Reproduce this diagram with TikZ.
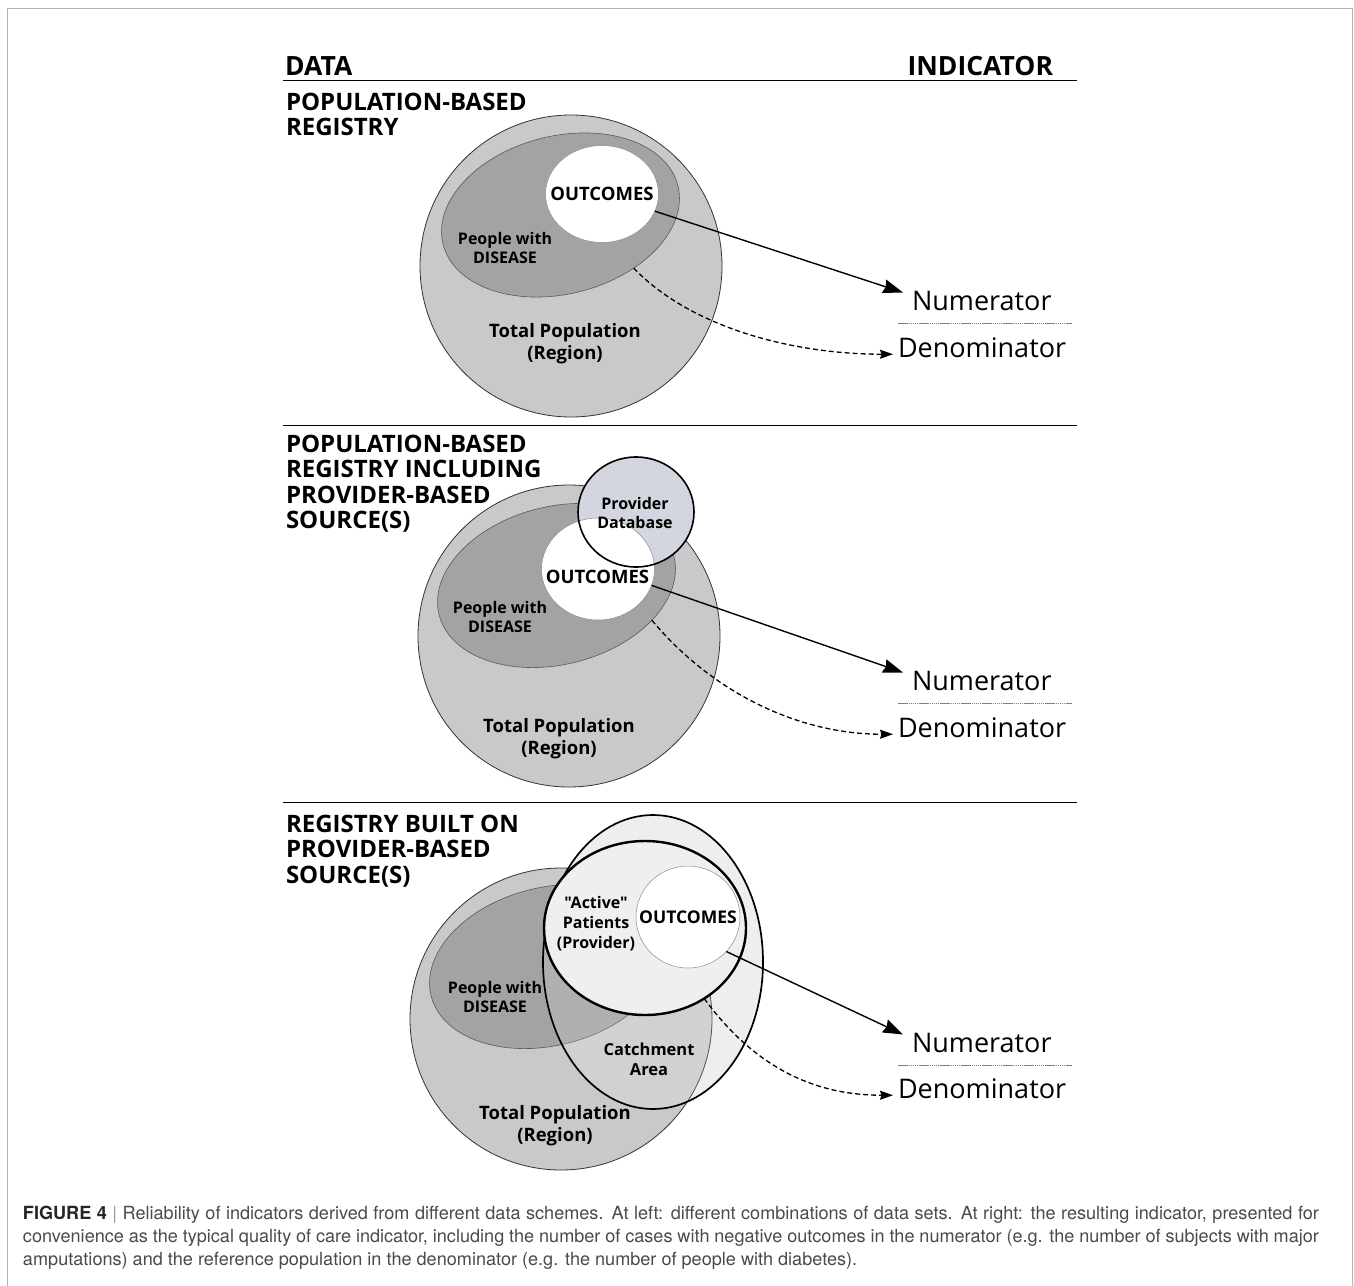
\documentclass[tikz,border=0pt]{standalone}
\usepackage{fontspec}
\setmainfont{Open Sans}[Ligatures=TeXOff]
\newfontfamily\capfont{TeX Gyre Heros}
\usepackage{tikz}
\usetikzlibrary{arrows.meta,positioning,calc,shapes.geometric}
\definecolor{popgray}{HTML}{C9C9C9}
\definecolor{disgray}{HTML}{A3A3A3}
\definecolor{provblue}{HTML}{D3D6DF}
\definecolor{catchgray}{HTML}{ECECEC}
\definecolor{actgray}{HTML}{EFEFEF}
\definecolor{framegray}{HTML}{B4B4B4}
\definecolor{capgray}{HTML}{4A4A4A}

\begin{document}
\begin{tikzpicture}[x=1pt, y=-1pt,
  every node/.style={inner sep=0pt, outer sep=0pt},
  hdr/.style={font=\fontsize{24}{25.5}\selectfont\bfseries, align=left},
  top/.style={font=\fontsize{26.5}{30}\selectfont\bfseries},
  lbl/.style={font=\fontsize{16}{19}\selectfont\bfseries, align=center},
  big/.style={font=\fontsize{18.5}{22}\selectfont\bfseries, align=center},
  ind/.style={font=\fontsize{27}{30}\selectfont},
  captxt/.style={font=\capfont\fontsize{18.1}{22}\selectfont, text=capgray, anchor=base west},
  pop/.style={circle, draw=black!80, line width=0.8pt, fill=popgray, minimum size=302},
  dis/.style={ellipse, draw=black!65, line width=0.6pt, fill=disgray, rotate=14, minimum width=242, minimum height=158},
  outc/.style={ellipse, draw=black!45, line width=0.5pt, fill=white},
  arr/.style={line width=1.4pt, -{Stealth[length=20pt,width=14pt,inset=2pt]}},
  darr/.style={line width=1.3pt, dash pattern=on 5pt off 3pt, -{Stealth[length=13pt,width=9pt,inset=1.5pt]}},
  sep/.style={line width=1.3pt}
]
\useasboundingbox (0,0) rectangle (1354,1285);
\draw[framegray, line width=1.2pt] (7.5,1300) -- (7.5,8.5) -- (1352.5,8.5) -- (1352.5,1300);

% header
\node[top, anchor=base west] (data) at (285,75) {DATA};
\node[top, anchor=base east] (indic) at (1053,75) {INDICATOR};
\draw[sep] (283,80.5) -- (1077,80.5);
\draw[sep] (283,425.5) -- (1077,425.5);
\draw[sep] (283,802.5) -- (1077,802.5);

% section 1
\node[hdr, anchor=north west] (t1) at (286,93) {POPULATION-BASED\\REGISTRY};
\node[pop] (pop1) at (571,266) {};
\node[dis] (dis1) at (560.5,215) {};
\node[outc, minimum width=113, minimum height=97] (out1) at (602,194) {};
\node[big] at (out1) {OUTCOMES};
\node[lbl] at (505,247.5) {People with\\DISEASE};
\node[big] at (565,344) {Total Population\\(Region)};

% section 2
\node[hdr, anchor=north west] (t2) at (286,435) {POPULATION-BASED\\REGISTRY INCLUDING\\PROVIDER-BASED\\SOURCE(S)};
\node[pop] (pop2) at (569,636) {};
\node[dis] (dis2) at (556.5,585.5) {};
\fill[provblue] (636,512) ellipse [x radius=58, y radius=55];
\node[outc, minimum width=113, minimum height=102] (out2) at (598,569) {};
\node[ellipse, draw=black, line width=1.6pt, minimum width=116, minimum height=110] (prov2) at (636,512) {};
\node[lbl] at (635,513) {Provider\\Database};
\node[big] at (597.5,577) {OUTCOMES};
\node[lbl] at (500,617) {People with\\DISEASE};
\node[big] at (559,738.5) {Total Population\\(Region)};

% section 3
\node[hdr, anchor=north west] (t3) at (286,815) {REGISTRY BUILT ON\\PROVIDER-BASED\\SOURCE(S)};
\fill[catchgray] (653,962) ellipse [x radius=110, y radius=147];
\node[pop] (pop3) at (561,1019) {};
\node[dis] (dis3) at (548.5,966.5) {};
\node[ellipse, draw=black, line width=1.7pt, fill=white, fill opacity=0.15, minimum width=220, minimum height=294] (catch3) at (653,962) {};
\node[ellipse, draw=black, line width=2.4pt, fill=actgray, minimum width=202, minimum height=174] (act3) at (645,928) {};
\node[outc, minimum width=104, minimum height=102] (out3) at (688,917) {};
\node[big, font=\fontsize{17.5}{20}\selectfont\bfseries] at (out3) {OUTCOMES};
\node[lbl, font=\fontsize{16}{20}\selectfont\bfseries] at (596,924) {"Active"\\Patients\\(Provider)};
\node[lbl] at (495,997) {People with\\DISEASE};
\node[lbl, font=\fontsize{16.5}{20}\selectfont\bfseries] at (649,1059) {Catchment\\Area};
\node[big] at (555,1126) {Total Population\\(Region)};

% indicator
\foreach \i/\yn/\yd/\ys in {1/310/357/323.5, 2/690/737/703.5, 3/1052/1098/1065.5} {
  \node[ind, anchor=base west] (num\i) at (912,\yn) {Numerator};
  \node[ind, anchor=base west] (den\i) at (898,\yd) {Denominator};
  \draw[black!50, line width=0.8pt, dash pattern=on 1.5pt off 0.6pt] (898,\ys) -- (1072,\ys);
}

\draw[arr] (out1.-18) -- ($(num1.west)+(-9,-8)$);
\draw[arr] (out2.-17) -- ($(num2.west)+(-9,-8)$);
\draw[arr] (out3.-42) -- ($(num3.west)+(-9,-8)$);
\draw[darr] (dis1.-50) .. controls +(60,62) and +(-95,0) .. ($(den1.west)+(-5,7)$);
\draw[darr] (dis2.-34) .. controls +(60,72) and +(-95,0) .. ($(den2.west)+(-5,7)$);
\draw[darr] (act3.-50) .. controls +(50,68) and +(-80,0) .. ($(den3.west)+(-5,7)$);

% caption
\node[captxt] (cap1) at (23,1219) {\makebox[1296pt][s]{{\color{black!85}\bfseries FIGURE 4} {\color{black!40}|} Reliability of indicators derived from different data schemes. At left: different combinations of data sets. At right: the resulting indicator, presented for}};
\node[captxt] (cap2) at (23,1242) {\makebox[1296pt][s]{convenience as the typical quality of care indicator, including the number of cases with negative outcomes in the numerator (e.g. the number of subjects with major}};
\node[captxt] (cap3) at (23,1265) {amputations) and the reference population in the denominator (e.g. the number of people with diabetes).};
\end{tikzpicture}
\end{document}
